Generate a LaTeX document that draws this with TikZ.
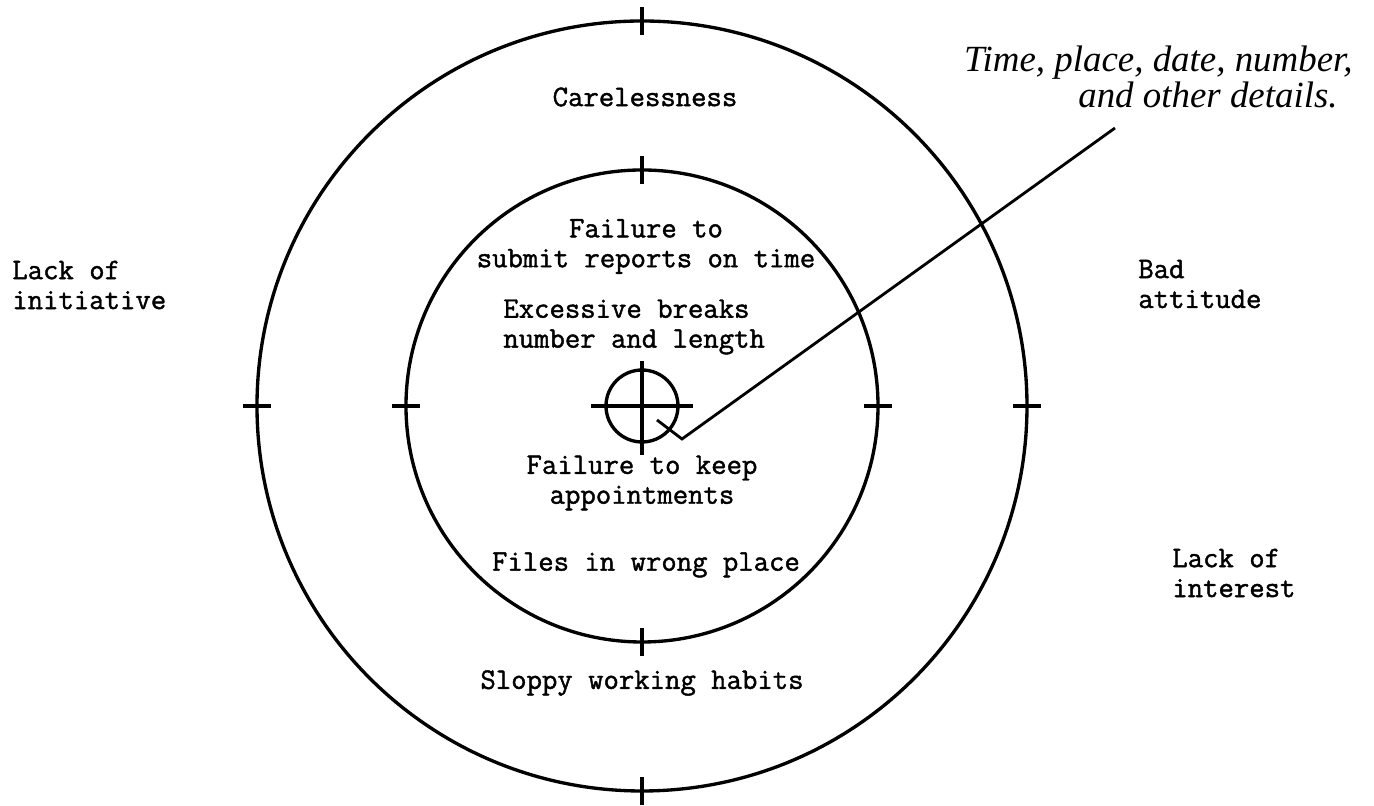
\documentclass[tikz,border=0pt]{standalone}
\usepackage{fontspec}
\newfontfamily\typefont{Latin Modern Mono}[FakeBold=1.4]
\newfontfamily\handfont{Liberation Serif}
\usepackage{tikz}
\usetikzlibrary{calc}

\begin{document}
\begin{tikzpicture}[
    ring/.style={draw, circle, line width=1.9pt, inner sep=0pt, outer sep=0pt},
    tick/.style={line width=1.9pt},
    typed/.style={font=\fontsize{17}{17}\selectfont\typefont, inner sep=0pt, align=center},
    hand/.style={font=\fontsize{21}{17.5}\selectfont\handfont\itshape, inner sep=0pt, align=right}
]
\useasboundingbox (-12.84, -8.0) rectangle (14.64, 8.12);

% Rings
\node[ring, minimum size=15.4cm] (outer) at (0, 0) {};
\node[ring, minimum size=9.44cm] (inner) at (0, 0) {};
\node[ring, minimum size=1.44cm] (bull) at (0, 0) {};

% Ticks on the outer ring
\draw[tick] ($(outer.north)+(0,0.28)$) -- ($(outer.north)+(0,-0.28)$);
\draw[tick] ($(outer.south)+(0,0.28)$) -- ($(outer.south)+(0,-0.28)$);
\draw[tick] ($(outer.west)+(-0.28,0)$) -- ($(outer.west)+(0.28,0)$);
\draw[tick] ($(outer.east)+(-0.28,0)$) -- ($(outer.east)+(0.28,0)$);

% Ticks on the inner ring
\draw[tick] ($(inner.north)+(0,0.28)$) -- ($(inner.north)+(0,-0.28)$);
\draw[tick] ($(inner.south)+(0,0.28)$) -- ($(inner.south)+(0,-0.28)$);
\draw[tick] ($(inner.west)+(-0.28,0)$) -- ($(inner.west)+(0.28,0)$);
\draw[tick] ($(inner.east)+(-0.28,0)$) -- ($(inner.east)+(0.28,0)$);

% Crosshair
\draw[tick] ($(bull.west)+(-0.3,0)$) -- ($(bull.east)+(0.3,0)$);
\draw[tick] ($(bull.north)+(0,0.18)$) -- ($(bull.south)+(0,-0.26)$);

% Outer ring labels
\node[typed] (careless) at (0.06, 6.18) {Carelessness};
\node[typed] (sloppy) at (0, -5.54) {Sloppy working habits};
\node[typed, anchor=west, align=left] (initiative) at (-12.6, 2.42) {Lack of\\initiative};
\node[typed, anchor=west, align=left] (attitude) at (9.92, 2.44) {Bad\\attitude};
\node[typed, anchor=west, align=left] (interest) at (10.6, -3.34) {Lack of\\interest};

% Inner ring labels
\node[typed] (reports) at (0.08, 3.19) {Failure to\\submit reports on time};
\node[typed, anchor=west, align=left] (breaks) at (-2.78, 1.58) {Excessive breaks\\number and length};
\node[typed] (appoint) at (0, -1.54) {Failure to keep\\appointments};
\node[typed] (files) at (0.08, -3.18) {Files in wrong place};

% Note and its pointer
\node[hand, anchor=east] (note) at (14.22, 6.58) {Time, place, date, number,\\and other details.\hspace*{0.3cm}};
\coordinate (tip) at (0.30, -0.28);
\coordinate (knee) at (0.80, -0.66);
\coordinate (lead) at (9.46, 5.56);
\draw[tick, line width=1.6pt] (tip) -- (knee) -- (lead);

\end{tikzpicture}
\end{document}
